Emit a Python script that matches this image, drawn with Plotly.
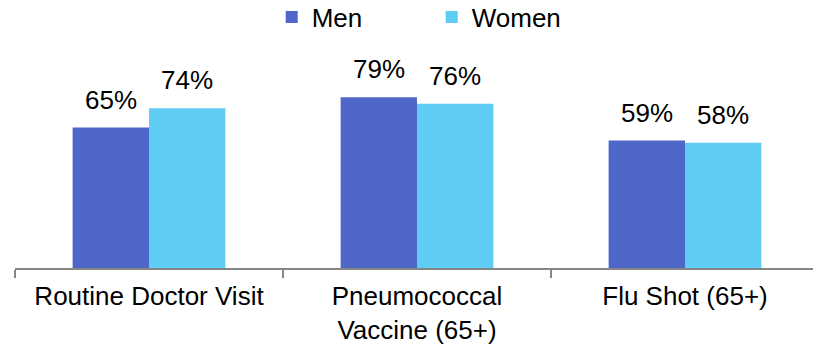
import plotly.graph_objects as go

categories = ["Routine Doctor Visit", "Pneumococcal<br>Vaccine (65+)", "Flu Shot (65+)"]
men = [65, 79, 59]
women = [74, 76, 58]

COLORS = {"men": "#4F67C8", "women": "#5ECCF3", "axis": "#868686"}
FONT = "Liberation Sans, Arial, sans-serif"

W, H = 813, 347

fig = go.Figure()
fig.add_trace(go.Bar(name="Men", x=categories, y=men, marker_color=COLORS["men"],
                     marker_line_width=0))
fig.add_trace(go.Bar(name="Women", x=categories, y=women, marker_color=COLORS["women"],
                     marker_line_width=0))

# value labels above the bars
for cat, m, w in zip(categories, men, women):
    for val, shift in ((m, -38), (w, 38)):
        fig.add_annotation(x=cat, y=val, text=f"{val}%", showarrow=False,
                           xshift=shift, yshift=11, yanchor="bottom",
                           font=dict(size=26, color="#000000"))

plot_w = W - 15
fig.update_layout(
    width=W, height=H,
    barmode="group",
    bargap=0.43,
    bargroupgap=0,
    margin=dict(l=15, r=0, t=52, b=79, autoexpand=False),
    paper_bgcolor="white",
    plot_bgcolor="white",
    font=dict(family=FONT, size=26, color="#000000"),
    showlegend=True,
    legend=dict(orientation="h", x=0.531, xref="container", xanchor="center",
                y=0.951, yref="container", yanchor="middle", font=dict(size=26),
                entrywidth=115, bgcolor="rgba(0,0,0,0)", borderwidth=0),
    xaxis=dict(range=[-0.5, -0.5 + plot_w / 268], showline=True, automargin=False,
               linecolor=COLORS["axis"], linewidth=1.5, ticks="outside",
               tickson="boundaries", ticklen=8, tickcolor=COLORS["axis"],
               tickwidth=1.5, showgrid=False, tickfont=dict(size=26),
               ticklabelstandoff=4),
    yaxis=dict(range=[0, 100], visible=False, showgrid=False, automargin=False),
)

# drop the browser's default body margin so the figure fills the window
fig.write_html("out.html", config={"displayModeBar": False},
               post_script="document.body.style.margin='0';")
